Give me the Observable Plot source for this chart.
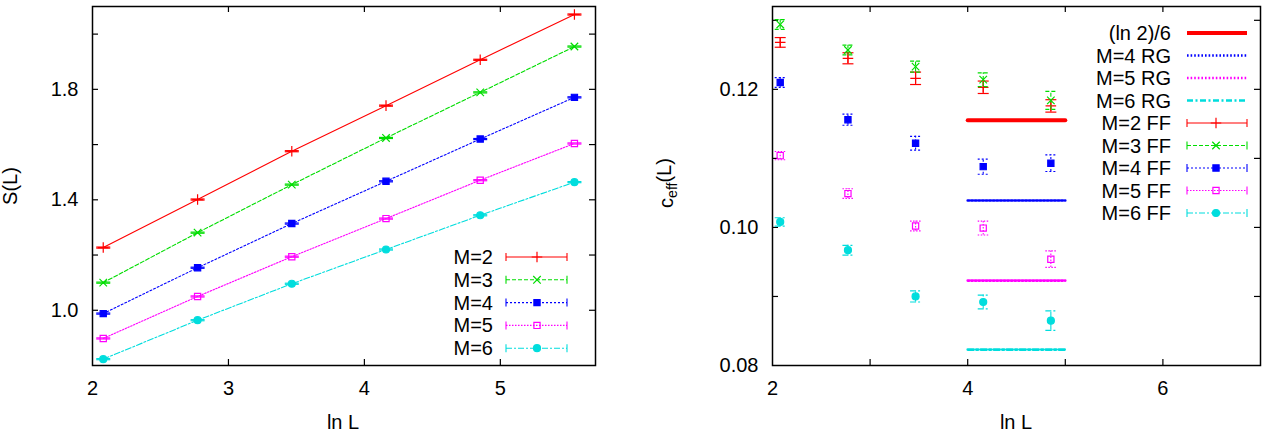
<!DOCTYPE html>
<html>
<head>
<meta charset="utf-8">
<script src="https://cdn.jsdelivr.net/npm/d3@7"></script>
<script src="https://cdn.jsdelivr.net/npm/@observablehq/plot@0.6"></script>
<style>
  html, body { margin: 0; padding: 0; background: #fff; }
  #wrap { position: relative; width: 1273px; height: 435px; overflow: hidden; background: #fff; }
  #left, #right { position: absolute; top: 0; }
  #left { left: 0; }
  #right { left: 640px; }
</style>
</head>
<body>
<div id="wrap"><div id="left"></div><div id="right"></div></div>
<script>
// ---------- data: left panel S(L) vs ln L ----------
const lnL = [2.079, 2.773, 3.466, 4.159, 4.852, 5.545];
const S_M2 = [1.227, 1.401, 1.576, 1.741, 1.907, 2.071];
const S_M3 = [1.100, 1.281, 1.455, 1.624, 1.789, 1.955];
const S_M4 = [0.988, 1.154, 1.314, 1.467, 1.620, 1.771];
const S_M5 = [0.898, 1.050, 1.194, 1.332, 1.471, 1.604];
const S_M6 = [0.823, 0.964, 1.096, 1.220, 1.344, 1.464];
const S_err = [0.002, 0.002, 0.002, 0.002, 0.002, 0.002];
const leftNames = ["M=2", "M=3", "M=4", "M=5", "M=6"];

// ---------- data: right panel c_eff(L) vs ln L ----------
const lnLc = [2.079, 2.773, 3.466, 4.159, 4.852];
const c_M2 = [0.1268, 0.1245, 0.1216, 0.1203, 0.1176];
const e_M2 = [0.0007, 0.0008, 0.0009, 0.0009, 0.0009];
const c_M3 = [0.1294, 0.1257, 0.1233, 0.1214, 0.1184];
const e_M3 = [0.0007, 0.0007, 0.0008, 0.0010, 0.0013];
const c_M4 = [0.1210, 0.1156, 0.1122, 0.1088, 0.1093];
const e_M4 = [0.0007, 0.0008, 0.0010, 0.0011, 0.0012];
const c_M5 = [0.1104, 0.1049, 0.1002, 0.0999, 0.0954];
const e_M5 = [0.0006, 0.0007, 0.0007, 0.0010, 0.0012];
const c_M6 = [0.1008, 0.0967, 0.0900, 0.0892, 0.0865];
const e_M6 = [0.0006, 0.0007, 0.0008, 0.0010, 0.0014];
const rgX = [4, 5];
const ln2over6 = Math.LN2 / 6;
const rg_M4 = 0.1039;
const rg_M5 = 0.0923;
const rg_M6 = 0.0823;
const ffNames = ["M=2 FF", "M=3 FF", "M=4 FF", "M=5 FF", "M=6 FF"];
const rgNames = ["(ln 2)/6", "M=4 RG", "M=5 RG", "M=6 RG"];

// ---------- ticks ----------
const xTicksL = [2, 3, 4, 5];
const yLabelsL = [1.0, 1.4, 1.8];
const yTicksL = [1.0, 1.2, 1.4, 1.6, 1.8, 2.0];
const xLabelsR = [2, 4, 6];
const xTicksR = [3, 4, 5, 6];
const yLabelsR = [0.08, 0.10, 0.12];
const yTicksR = [0.09, 0.10, 0.11, 0.12, 0.13];

// ---------- styles ----------
const colors = ["#ff0000", "#00dd00", "#0000ff", "#ff00ff", "#00dddd"];
const dashes = [null, "4,2", "2,2", "1.5,1.5", "6,2,2,2"];
const symbols = ["plus", "times", "square", "square", "circle"];
const symFill = [false, false, true, false, true];
const FONT = "'Liberation Sans', Arial, Helvetica, sans-serif";
const TICK = 6;

const hbar = { draw(ctx, size) { const r = Math.sqrt(size / Math.PI); ctx.moveTo(-r, 0); ctx.lineTo(r, 0); } };

function rows(xs, ys, es) { return xs.map((x, i) => ({ x, y: ys[i], e: es[i] })); }

// labels via axes (no tick lines), inward ticks on all four sides via tick marks with insets
function tickAxes(xLabels, xTicks, yLabels, yTicks, yFmt, pw, ph) {
  const tk = { stroke: "#000", strokeWidth: 1.2 };
  return [
    Plot.axisX({ ticks: xLabels, tickSize: 0, tickPadding: 15, label: null, tickFormat: d3.format("d") }),
    Plot.axisY({ ticks: yLabels, tickSize: 0, tickPadding: 14, tickFormat: yFmt, label: null }),
    Plot.tickX(xTicks, { x: d => d, insetTop: ph - TICK, ...tk }),
    Plot.tickX(xTicks, { x: d => d, insetBottom: ph - TICK, ...tk }),
    Plot.tickY(yTicks, { y: d => d, insetRight: pw - TICK, ...tk }),
    Plot.tickY(yTicks, { y: d => d, insetLeft: pw - TICK, ...tk })
  ];
}

// ---------- left chart ----------
const leftSeries = [S_M2, S_M3, S_M4, S_M5, S_M6].map(ys => rows(lnL, ys, S_err));
const leftMarks = [];
leftSeries.forEach((data, i) => {
  leftMarks.push(Plot.line(data, { x: "x", y: "y", stroke: colors[i], strokeWidth: 1.1, strokeDasharray: dashes[i] }));
  leftMarks.push(Plot.dot(data, { x: "x", y: d => d.y + d.e, symbol: hbar, r: 7, stroke: colors[i], fill: "none", strokeWidth: 1.2 }));
  leftMarks.push(Plot.dot(data, { x: "x", y: d => d.y - d.e, symbol: hbar, r: 7, stroke: colors[i], fill: "none", strokeWidth: 1.2 }));
  leftMarks.push(Plot.dot(data, { x: "x", y: "y", symbol: symbols[i], r: 3.5, stroke: colors[i], fill: symFill[i] ? colors[i] : "none", strokeWidth: 1.2 }));
});

const L = { w: 630, h: 435, ml: 92, mr: 35, mt: 6, mb: 70 };
const left = Plot.plot({
  width: L.w, height: L.h,
  marginLeft: L.ml, marginRight: L.mr, marginTop: L.mt, marginBottom: L.mb,
  x: { domain: [2, 5.7] },
  y: { domain: [0.8, 2.1] },
  style: { fontFamily: FONT, fontSize: "20px", color: "#000", background: "#fff", overflow: "visible" },
  marks: [
    ...tickAxes(xTicksL, xTicksL.slice(1), yLabelsL, yTicksL, d3.format(".1f"), L.w - L.ml - L.mr, L.h - L.mt - L.mb),
    ...leftMarks,
    Plot.frame({ stroke: "#000", strokeWidth: 1.5 })
  ]
});
document.getElementById("left").appendChild(left);

// ---------- right chart ----------
const rightSeries = [[c_M2, e_M2], [c_M3, e_M3], [c_M4, e_M4], [c_M5, e_M5], [c_M6, e_M6]].map(([c, e]) => rows(lnLc, c, e));
const rgLines = [
  { v: ln2over6, color: "#ff0000", dash: null, w: 4 },
  { v: rg_M4, color: "#0000ff", dash: "1.6,2", w: 2.6 },
  { v: rg_M5, color: "#ff00ff", dash: "1.6,2", w: 2.6 },
  { v: rg_M6, color: "#00dddd", dash: "6,2.5,2,2.5", w: 2.6 }
];
const rightMarks = [];
rgLines.forEach(r => {
  rightMarks.push(Plot.line(rgX.map(x => ({ x, y: r.v })), { x: "x", y: "y", stroke: r.color, strokeWidth: r.w, strokeDasharray: r.dash }));
});
rightSeries.forEach((data, i) => {
  rightMarks.push(Plot.ruleX(data, { x: "x", y1: d => d.y - d.e, y2: d => d.y + d.e, stroke: colors[i], strokeWidth: 1.1, strokeDasharray: dashes[i] }));
  rightMarks.push(Plot.dot(data, { x: "x", y: d => d.y + d.e, symbol: hbar, r: 5.5, stroke: colors[i], fill: "none", strokeWidth: 1.2, strokeDasharray: dashes[i] }));
  rightMarks.push(Plot.dot(data, { x: "x", y: d => d.y - d.e, symbol: hbar, r: 5.5, stroke: colors[i], fill: "none", strokeWidth: 1.2, strokeDasharray: dashes[i] }));
  rightMarks.push(Plot.dot(data, { x: "x", y: "y", symbol: symbols[i], r: 3.5, stroke: colors[i], fill: symFill[i] ? colors[i] : "none", strokeWidth: 1.2 }));
});

const R = { w: 633, h: 435, ml: 132, mr: 13, mt: 6, mb: 70 };
const right = Plot.plot({
  width: R.w, height: R.h,
  marginLeft: R.ml, marginRight: R.mr, marginTop: R.mt, marginBottom: R.mb,
  x: { domain: [2, 7] },
  y: { domain: [0.08, 0.132] },
  style: { fontFamily: FONT, fontSize: "20px", color: "#000", background: "#fff", overflow: "visible" },
  marks: [
    ...tickAxes(xLabelsR, xTicksR, yLabelsR, yTicksR, d3.format(".2f"), R.w - R.ml - R.mr, R.h - R.mt - R.mb),
    ...rightMarks,
    Plot.frame({ stroke: "#000", strokeWidth: 1.5 })
  ]
});
document.getElementById("right").appendChild(right);

// ---------- axis titles & legends ----------
const d3sym = { plus: d3.symbolPlus, times: d3.symbolTimes, square: d3.symbolSquare, circle: d3.symbolCircle };

function addText(svg, x, y, str, opts = {}) {
  const t = svg.append("text").attr("x", x).attr("y", y)
    .attr("font-family", FONT).attr("font-size", opts.size || 20).attr("fill", "#000")
    .attr("text-anchor", opts.anchor || "middle");
  if (opts.rotate) t.attr("transform", `rotate(-90,${x},${y})`);
  t.text(str);
  return t;
}

function legendRow(svg, item, xt, x1, x2, xm, y) {
  addText(svg, xt, y + 7, item.label, { anchor: "end" });
  const g = svg.append("g");
  g.append("line").attr("x1", x1).attr("x2", x2).attr("y1", y).attr("y2", y)
    .attr("stroke", item.color).attr("stroke-width", item.w || 1.1)
    .attr("stroke-dasharray", item.dash || null);
  if (item.err) {
    [x1, x2].forEach(x => g.append("line").attr("x1", x).attr("x2", x).attr("y1", y - 4).attr("y2", y + 4)
      .attr("stroke", item.color).attr("stroke-width", 1.1));
  }
  if (item.sym) {
    const size = Math.PI * 3.5 * 3.5;
    g.append("path").attr("d", d3.symbol(d3sym[item.sym], size)())
      .attr("transform", `translate(${xm},${y})`)
      .attr("stroke", item.color).attr("stroke-width", 1.2)
      .attr("fill", item.fill ? item.color : "none");
  }
}

// left
const ls = d3.select(left);
addText(ls, 343, 429, "ln L");
addText(ls, 17, 186, "S(L)", { rotate: true });
leftNames.forEach((name, i) => {
  legendRow(ls, { label: name, color: colors[i], dash: dashes[i], err: true, sym: symbols[i], fill: symFill[i] },
    493, 506, 567, 537, 257 + i * 22.8);
});

// right
const rs = d3.select(right);
addText(rs, 376, 429, "ln L");
const cl = rs.append("text").attr("font-family", FONT).attr("font-size", 20).attr("fill", "#000")
  .attr("text-anchor", "middle").attr("transform", "translate(33,183) rotate(-90)");
cl.append("tspan").text("c");
cl.append("tspan").attr("font-size", 14).attr("dy", "0.3em").text("eff");
cl.append("tspan").attr("dy", "-0.3em").text("(L)");
const rItems = [
  ...rgNames.map((n, i) => ({ label: n, color: rgLines[i].color, dash: rgLines[i].dash, w: rgLines[i].w, err: false })),
  ...ffNames.map((n, i) => ({ label: n, color: colors[i], dash: dashes[i], err: true, sym: symbols[i], fill: symFill[i] }))
];
rItems.forEach((it, i) => legendRow(rs, it, 531, 547, 607, 576, 33 + i * 22.5));
</script>
</body>
</html>
